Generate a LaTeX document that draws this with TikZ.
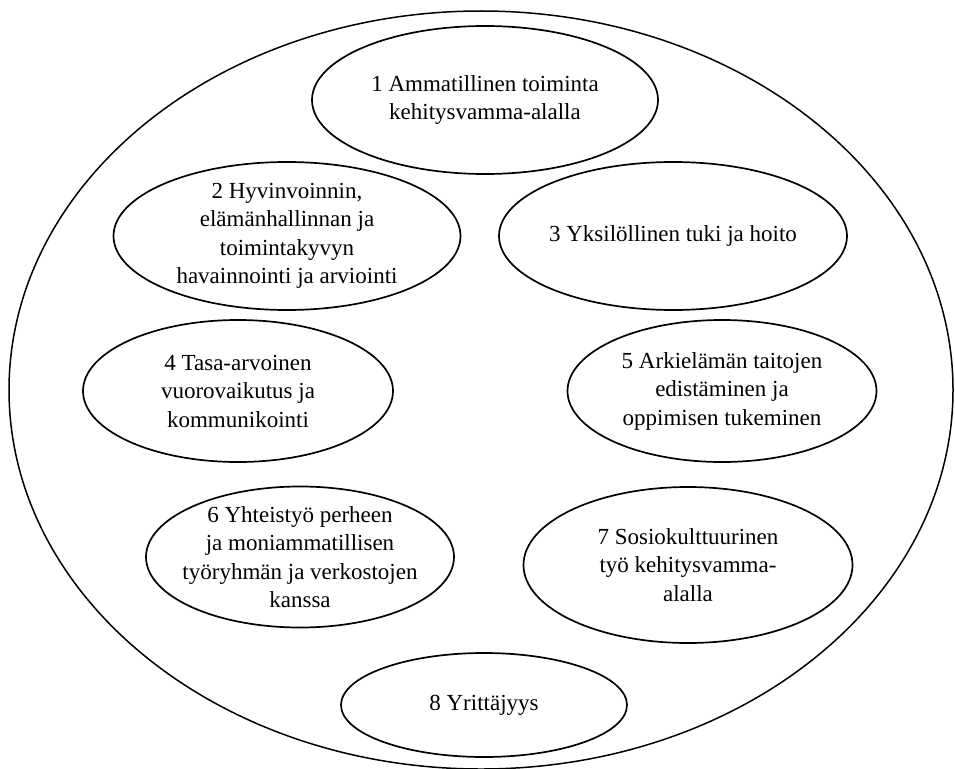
\documentclass[tikz,border=0pt]{standalone}
\usepackage{fontspec}
\setmainfont{Liberation Serif}
\usetikzlibrary{shapes.geometric}

\begin{document}
\begin{tikzpicture}[x=1pt, y=-1pt,
  alue/.style={ellipse, draw, line width=1.7pt, inner sep=-16pt, align=center,
    font=\fontsize{23}{28.5}\selectfont}]

\useasboundingbox (0,0) rectangle (955,768);

\node[alue, line width=1.5pt, minimum width=944pt, minimum height=758pt] (koko) at (481,390) {};

\node[alue, minimum width=346pt, minimum height=148pt] (a1) at (485,100)
  {1 Ammatillinen toiminta\\kehitysvamma-alalla};
\node[alue, minimum width=347pt, minimum height=148pt] (a2) at (287,236)
  {2 Hyvinvoinnin,\\elämänhallinnan ja\\toimintakyvyn\\havainnointi ja arviointi};
\node[alue, minimum width=348pt, minimum height=148pt] (a3) at (673,236)
  {3 Yksilöllinen tuki ja hoito};
\node[alue, minimum width=310pt, minimum height=142pt] (a4) at (238,391)
  {4 Tasa-arvoinen\\vuorovaikutus ja\\kommunikointi};
\node[alue, minimum width=309pt, minimum height=142pt] (a5) at (722,391)
  {5 Arkielämän taitojen\\edistäminen ja\\oppimisen tukeminen};
\node[alue, minimum width=308pt, minimum height=141pt] (a6) at (300,557)
  {6 Yhteistyö perheen\\ja moniammatillisen\\työryhmän ja verkostojen\\kanssa};
\node[alue, minimum width=329pt, minimum height=156pt] (a7) at (688,565)
  {7 Sosiokulttuurinen\\työ kehitysvamma-\\alalla};
\node[alue, minimum width=286pt, minimum height=104pt] (a8) at (484,705)
  {8 Yrittäjyys};

\end{tikzpicture}
\end{document}
